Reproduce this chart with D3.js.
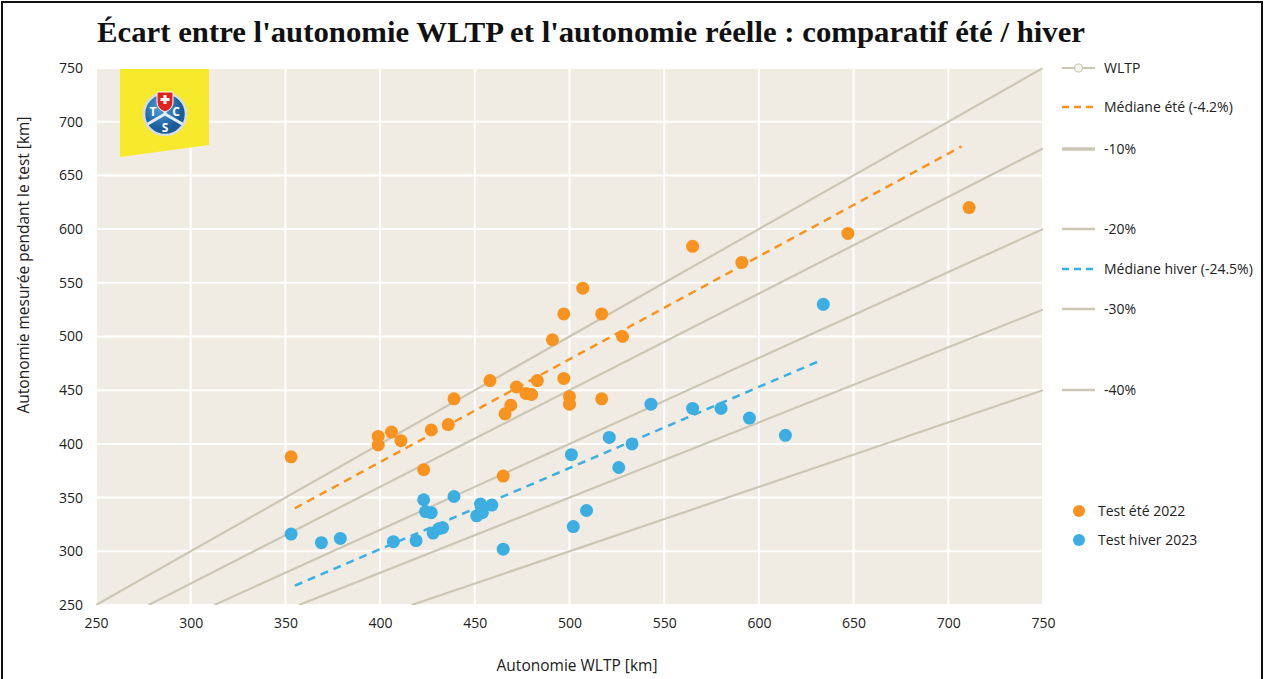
<!DOCTYPE html>
<meta charset="utf-8">
<style>
  body{margin:0;background:#fff;}
  text{font-family:"Open Sans",Lato,sans-serif;fill:#222;}
  .grid line{stroke:#fff;stroke-width:2;}
  .ref{stroke:#ccc6b5;stroke-width:2.2;fill:none;}
</style>
<body>
<script src="https://cdn.jsdelivr.net/npm/d3@7"></script>
<script>
  // reference lines: ratio of real range to WLTP range
  var refRatios=[1,0.9,0.8,0.7,0.6];
  var refLabels=["WLTP","-10%","-20%","-30%","-40%"];

  // summer test 2022 [wltp, measured]
  var summer=[[353,388],[399,407],[399,399],[406,411],[411,403],[423,376],[427,413],[436,418],
    [439,442],[458,459],[465,370],[466,428],[469,436],[472,453],[477,447],[480,446],[483,459],
    [491,497],[497,521],[497,461],[500,444],[500,437],[507,545],[517,521],[517,442],[528,500],
    [565,584],[591,569],[647,596],[711,620]];
  // winter test 2023
  var winter=[[353,316],[369,308],[379,312],[407,309],[419,310],[423,348],[424,337],[427,336],
    [428,317],[431,321],[433,322],[439,351],[451,333],[453,344],[454,336],[459,343],[465,302],
    [501,390],[502,323],[509,338],[521,406],[526,378],[533,400],[543,437],[565,433],[580,433],
    [595,424],[614,408],[634,530]];

  var medianSummer=[[355,340],[707,677]];
  var medianWinter=[[355,268],[633,478]];

  var ticks=[250,300,350,400,450,500,550,600,650,700,750];

  var orange="#f7931e", blue="#3daee2";

  var W=1264,H=679;
  var svg=d3.select("body").append("svg").attr("width",W).attr("height",H);

  svg.append("rect").attr("x",2).attr("y",2).attr("width",W-4).attr("height",H+10)
     .attr("fill","#fff").attr("stroke","#111").attr("stroke-width",2);

  svg.append("text").attr("x",97).attr("y",42)
     .attr("textLength",988).attr("lengthAdjust","spacingAndGlyphs")
     .style("font-family","'Liberation Serif',serif").style("font-weight","bold").style("font-size","29px")
     .style("fill","#111")
     .text("Écart entre l'autonomie WLTP et l'autonomie réelle : comparatif été / hiver");

  var x=d3.scaleLinear().domain([250,750]).range([96,1043]);
  var y=d3.scaleLinear().domain([250,750]).range([605,68]);

  svg.append("rect").attr("x",x(250)).attr("y",y(750)).attr("width",x(750)-x(250)).attr("height",y(250)-y(750))
     .attr("fill","#f0ece3");

  var grid=svg.append("g").attr("class","grid");
  grid.selectAll(".v").data(ticks).enter().append("line")
      .attr("x1",d=>x(d)).attr("x2",d=>x(d)).attr("y1",y(250)).attr("y2",y(750));
  grid.selectAll(".h").data(ticks).enter().append("line")
      .attr("y1",d=>y(d)).attr("y2",d=>y(d)).attr("x1",x(250)).attr("x2",x(750));

  // axes (labels only)
  var xa=svg.append("g").attr("transform","translate(0,"+(y(250)+19)+")")
      .call(d3.axisBottom(x).tickValues(ticks).tickSize(0).tickPadding(0));
  var ya=svg.append("g").attr("transform","translate("+(x(250)-13)+",0)")
      .call(d3.axisLeft(y).tickValues(ticks).tickSize(0).tickPadding(0));
  svg.selectAll(".domain").remove();
  xa.selectAll("text").attr("dy","0.32em").style("font-size","14px").style("font-family","'Open Sans'");
  ya.selectAll("text").style("font-size","14px").style("font-family","'Open Sans'");

  svg.append("text").attr("x",577).attr("y",666).attr("dy","0.35em").attr("text-anchor","middle")
     .style("font-size","15.5px").text("Autonomie WLTP [km]");
  svg.append("text").attr("transform","translate(24,265) rotate(-90)").attr("dy","0.35em").attr("text-anchor","middle")
     .style("font-size","15.5px").text("Autonomie mesurée pendant le test [km]");

  // logo
  var logo=svg.append("g");
  logo.append("path").attr("d","M120,69 L209,69 L209,145 L120,157 Z").attr("fill","#f7ea2c");
  var lg=svg.append("defs").append("radialGradient").attr("id","tcs").attr("cx","40%").attr("cy","35%");
  lg.append("stop").attr("offset","0%").attr("stop-color","#4da3dc");
  lg.append("stop").attr("offset","100%").attr("stop-color","#1a5c9a");
  var cx=165,cy=114;
  logo.append("circle").attr("cx",cx).attr("cy",cy).attr("r",21).attr("fill","url(#tcs)")
      .attr("stroke","#d8dde2").attr("stroke-width",2.5);
  [-90,150,30].forEach(function(a){
    var r=a*Math.PI/180;
    logo.append("line").attr("x1",cx).attr("y1",cy).attr("x2",cx+20*Math.cos(r)).attr("y2",cy+20*Math.sin(r))
        .attr("stroke","#e8edf2").attr("stroke-width",3);
  });
  [["T",-12,-2],["C",11,-2],["S",0,14]].forEach(function(t){
    logo.append("text").attr("x",cx+t[1]).attr("y",cy+t[2]+4).attr("text-anchor","middle")
        .style("font-size","12px").style("font-weight","bold").style("fill","#fff").text(t[0]);
  });
  logo.append("path").attr("d","M157,92 L173,92 L173,102 Q173,109 165,112 Q157,109 157,102 Z")
      .attr("fill","#e2231a").attr("stroke","#fff").attr("stroke-width",1);
  logo.append("path").attr("d","M163.5,95 h3 v3 h3 v3 h-3 v3 h-3 v-3 h-3 v-3 h3 Z").attr("fill","#fff");

  // reference lines
  var clip=svg.append("defs").append("clipPath").attr("id","plot");
  clip.append("rect").attr("x",x(250)).attr("y",y(750)).attr("width",x(750)-x(250)).attr("height",y(250)-y(750));
  var refs=svg.append("g").attr("clip-path","url(#plot)");
  refs.selectAll("line").data(refRatios).enter().append("line").attr("class","ref")
      .attr("x1",d=>x(250/d)).attr("y1",y(250)).attr("x2",x(750)).attr("y2",d=>y(750*d));

  var line=d3.line().x(d=>x(d[0])).y(d=>y(d[1]));
  svg.append("path").datum(medianSummer).attr("d",line).attr("fill","none")
     .attr("stroke",orange).attr("stroke-width",2.5).attr("stroke-dasharray","8,6");
  svg.append("path").datum(medianWinter).attr("d",line).attr("fill","none")
     .attr("stroke",blue).attr("stroke-width",2.5).attr("stroke-dasharray","8,6");

  svg.append("g").selectAll("circle").data(summer).enter().append("circle")
     .attr("cx",d=>x(d[0])).attr("cy",d=>y(d[1])).attr("r",6.5).attr("fill",orange);
  svg.append("g").selectAll("circle").data(winter).enter().append("circle")
     .attr("cx",d=>x(d[0])).attr("cy",d=>y(d[1])).attr("r",6.5).attr("fill",blue);

  // legend
  var leg=[
    {label:"WLTP",y:68,type:"ref",w:2.2,marker:true},
    {label:"Médiane été (-4.2%)",y:107,type:"dash",color:orange},
    {label:"-10%",y:149,type:"ref",w:3.5},
    {label:"-20%",y:229,type:"ref",w:2.5},
    {label:"Médiane hiver (-24.5%)",y:269,type:"dash",color:blue},
    {label:"-30%",y:309,type:"ref",w:2.5},
    {label:"-40%",y:390,type:"ref",w:2.5}
  ];
  var lgd=svg.append("g");
  leg.forEach(function(d){
    var ln=lgd.append("line").attr("x1",1062).attr("x2",1095).attr("y1",d.y).attr("y2",d.y);
    if(d.type=="ref") ln.attr("stroke","#ccc6b5").attr("stroke-width",d.w);
    else ln.attr("stroke",d.color).attr("stroke-width",2.5).attr("stroke-dasharray","7,5");
    if(d.marker) lgd.append("circle").attr("cx",1078.5).attr("cy",d.y).attr("r",4)
        .attr("fill","#f6f4ef").attr("stroke","#ccc6b5").attr("stroke-width",1.2);
    lgd.append("text").attr("x",1104).attr("y",d.y).attr("dy","0.35em").style("font-size","14px").text(d.label);
  });
  [["Test été 2022",511,orange],["Test hiver 2023",540,blue]].forEach(function(d){
    lgd.append("circle").attr("cx",1079).attr("cy",d[1]).attr("r",6).attr("fill",d[2]);
    lgd.append("text").attr("x",1098).attr("y",d[1]).attr("dy","0.35em").style("font-size","14px").text(d[0]);
  });
</script>
</body>
</html>
